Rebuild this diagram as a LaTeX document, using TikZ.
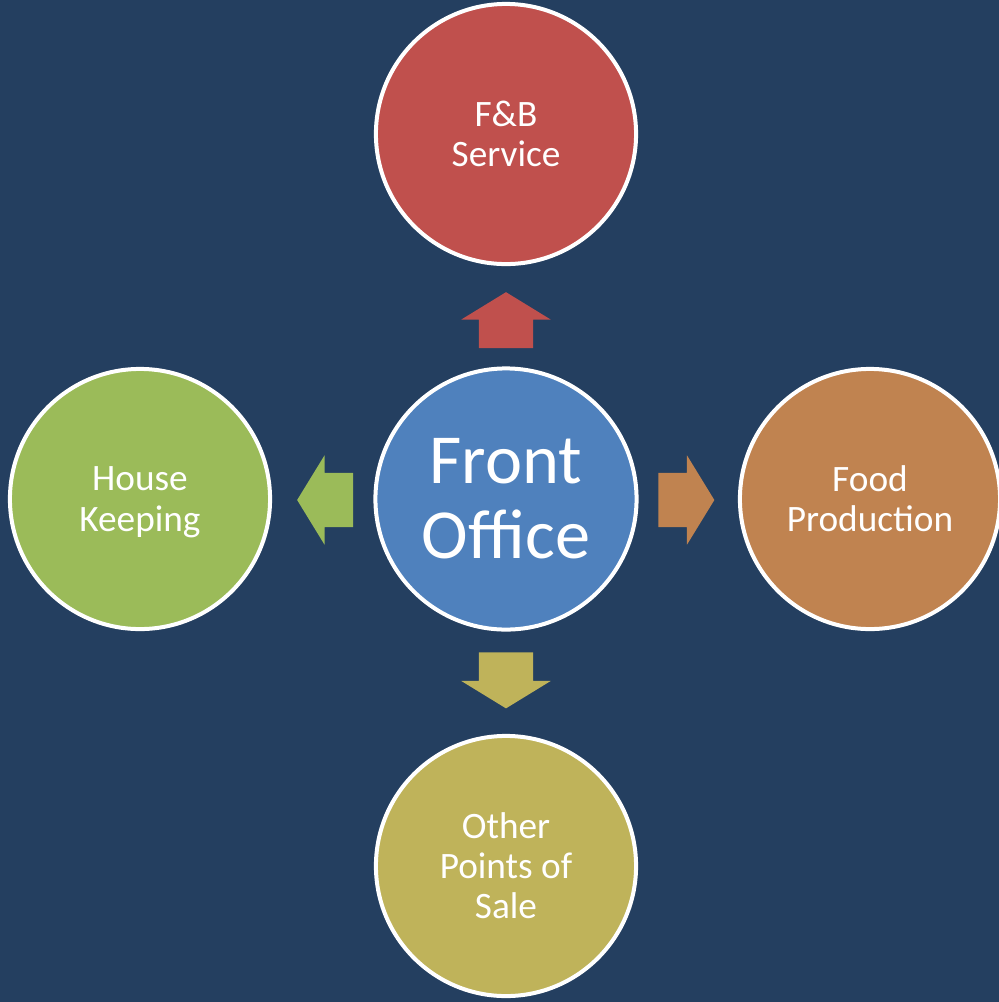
\documentclass[tikz,border=0pt]{standalone}
\usepackage{fontspec}
\setmainfont{Carlito}
\usepackage{tikz}
\usetikzlibrary{shapes.arrows,calc}

\definecolor{bgblue}{HTML}{243F60}
\definecolor{foblue}{HTML}{4F81BD}
\definecolor{fbred}{HTML}{C0504D}
\definecolor{hkgreen}{HTML}{9BBB59}
\definecolor{fporange}{HTML}{C08350}
\definecolor{posolive}{HTML}{BFB35A}

\tikzset{
  dept/.style={draw=white,circle,line width=0.04cm,minimum size=2.6cm,inner
  sep=0,text=white,align=center,font=\fontsize{10.6}{11.4}\selectfont},
  blockarrow/.style={single arrow,draw=none,minimum height=0.56cm,inner xsep=0,
  inner ysep=0.265cm,single arrow head extend=0.175cm,single arrow tip angle=117}
}

\begin{document}
\begin{tikzpicture}[x=0.01cm,y=-0.01cm]
\fill[bgblue] (0,0) rectangle (999,1002);
\useasboundingbox (0,0) rectangle (999,1002);

\node[dept,fill=foblue,minimum size=2.61cm,font=\fontsize{20}{21.3}\selectfont] (fo) at (506,499) {Front\\Office};
\node[dept,fill=fbred] (fb) at (506,134) {F\&B\\Service};
\node[dept,fill=hkgreen] (hk) at (140,499) {House\\\smash{Keeping}};
\node[dept,fill=fporange] (fp) at (870,499) {Food\\Production};
\node[dept,fill=posolive] (pos) at (506,866) {Other\\Points of\\Sale};

% block arrows between the circles
\node[blockarrow,fill=fbred,rotate=90] (a-fb) at (506,328.5) {};
\node[blockarrow,fill=hkgreen,rotate=180] (a-hk) at (333.5,500) {};
\node[blockarrow,fill=fporange] (a-fp) at (678,500) {};
\node[blockarrow,fill=posolive,rotate=-90] (a-pos) at (506,672) {};

\end{tikzpicture}
\end{document}
